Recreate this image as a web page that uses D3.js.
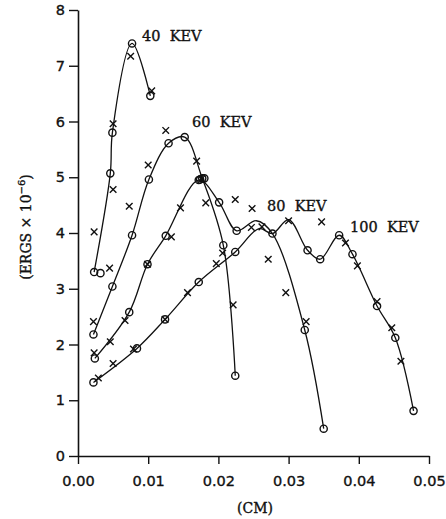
<!DOCTYPE html>
<html>
<head>
<meta charset="utf-8">
<script src="https://cdn.jsdelivr.net/npm/d3@7"></script>
<style>
  body { margin: 0; background: #fff; }
  text { fill: #111; stroke: #111; stroke-width: 0.35px; }
</style>
</head>
<body>
<svg width="446" height="519"></svg>
<script>
// tick values
var xTicks = [0, 0.01, 0.02, 0.03, 0.04, 0.05];
var yTicks = [0, 1, 2, 3, 4, 5, 6, 7, 8];

// series names
var seriesNames = ["40 KEV", "60 KEV", "80 KEV", "100 KEV"];

// circles (o) sitting on each curve, [cm, ergs x 1e-6]
var kev40Circles = [[0.0023, 3.30], [0.0046, 5.07], [0.0049, 5.80], [0.0077, 7.40], [0.0103, 6.46]];
var kev60Circles = [[0.0022, 2.18], [0.0049, 3.04], [0.0077, 3.96], [0.0101, 4.96], [0.0129, 5.61],
  [0.0152, 5.72], [0.0177, 4.98], [0.0207, 3.78], [0.0224, 1.44]];
var kev80Circles = [[0.0024, 1.75], [0.0073, 2.58], [0.0099, 3.44], [0.0125, 3.95], [0.0172, 4.95],
  [0.0201, 4.55], [0.0226, 4.04], [0.0277, 3.99], [0.0323, 2.26], [0.0350, 0.49]];
var kev100Circles = [[0.0022, 1.32], [0.0084, 1.93], [0.0124, 2.45], [0.0172, 3.12], [0.0224, 3.66],
  [0.0327, 3.69], [0.0345, 3.53], [0.0372, 3.96], [0.0391, 3.62], [0.0426, 2.69], [0.0452, 2.12], [0.0478, 0.81]];

// extra knots the drawn curves pass through (no marker)
var kev40Knots = [];
var kev60Knots = [];
var kev80Knots = [[0.0254, 4.22]];
var kev100Knots = [[0.0258, 4.08], [0.0277, 3.99], [0.0300, 4.24]];

// circles not on a curve
var looseCircles = [[0.0032, 3.28], [0.0180, 4.98], [0.0174, 4.96]];

// crosses (x)
var kev40Crosses = [[0.0050, 5.96], [0.0075, 7.17], [0.0105, 6.55], [0.0050, 4.78], [0.0045, 3.37]];
var kev60Crosses = [[0.0022, 2.41], [0.0023, 4.02], [0.0073, 4.48], [0.0100, 5.22], [0.0125, 5.84],
  [0.0169, 5.29], [0.0182, 4.54], [0.0206, 3.64], [0.0221, 2.71]];
var kev80Crosses = [[0.0023, 1.85], [0.0046, 2.05], [0.0067, 2.43], [0.0099, 3.44], [0.0133, 3.93],
  [0.0146, 4.45], [0.0176, 4.97], [0.0224, 4.60], [0.0248, 4.44], [0.0271, 3.53], [0.0296, 2.93], [0.0325, 2.41]];
var kev100Crosses = [[0.0029, 1.40], [0.0050, 1.66], [0.0079, 1.92], [0.0124, 2.45], [0.0156, 2.93],
  [0.0197, 3.45], [0.0247, 4.10], [0.0262, 4.11], [0.0300, 4.22], [0.0347, 4.20], [0.0381, 3.82],
  [0.0398, 3.41], [0.0426, 2.77], [0.0447, 2.30], [0.0460, 1.70]];

(function () {
  var svg = d3.select("svg");

  var x = d3.scaleLinear().domain([0, 0.05]).range([78, 429]);
  var y = d3.scaleLinear().domain([0, 8]).range([456, 10]);

  var series = [
    { name: seriesNames[0], circles: kev40Circles, knots: kev40Knots, crosses: kev40Crosses, lx: 142, ly: 41 },
    { name: seriesNames[1], circles: kev60Circles, knots: kev60Knots, crosses: kev60Crosses, lx: 192, ly: 127 },
    { name: seriesNames[2], circles: kev80Circles, knots: kev80Knots, crosses: kev80Crosses, lx: 267, ly: 211 },
    { name: seriesNames[3], circles: kev100Circles, knots: kev100Knots, crosses: kev100Crosses, lx: 350, ly: 232 }
  ];

  // axes
  var xAxis = svg.append("g")
    .attr("transform", "translate(0," + y(0) + ")")
    .call(d3.axisBottom(x).tickValues(xTicks).tickSize(8).tickSizeOuter(0)
      .tickFormat(d3.format(".2f")));
  var yAxis = svg.append("g")
    .attr("transform", "translate(" + x(0) + ",0)")
    .call(d3.axisLeft(y).tickValues(yTicks).tickSize(9).tickSizeOuter(0)
      .tickFormat(d3.format("d")));

  [xAxis, yAxis].forEach(function (g) {
    g.select(".domain").attr("stroke", "#111").attr("stroke-width", 1.6);
    g.selectAll(".tick line").attr("stroke", "#111").attr("stroke-width", 1.4);
    g.selectAll(".tick text")
      .attr("fill", "#111")
      .style("font-family", "'DejaVu Sans', sans-serif")
      .style("font-size", "14.5px");
  });
  xAxis.selectAll(".tick text").attr("dy", "0").attr("y", 30);
  yAxis.selectAll(".tick text").attr("x", -13);

  // axis titles
  svg.append("text")
    .attr("x", 255).attr("y", 513)
    .attr("text-anchor", "middle")
    .style("font-family", "'DejaVu Serif', serif")
    .style("font-size", "14px")
    .text("(CM)");

  var yt = svg.append("text")
    .attr("transform", "translate(31,227) rotate(-90)")
    .attr("text-anchor", "middle")
    .style("font-family", "'DejaVu Serif', serif")
    .style("font-size", "14px");
  yt.append("tspan").text("(ERGS \u00d7 10");
  yt.append("tspan").attr("dy", -6).style("font-size", "10px").text("\u22126");
  yt.append("tspan").attr("dy", 6).text(")");

  var line = d3.line()
    .x(function (d) { return x(d[0]); })
    .y(function (d) { return y(d[1]); })
    .curve(d3.curveCatmullRom.alpha(0.5));

  series.forEach(function (s) {
    var pts = s.circles.concat(s.knots).sort(function (a, b) { return a[0] - b[0]; });
    svg.append("path")
      .datum(pts)
      .attr("d", line)
      .attr("fill", "none")
      .attr("stroke", "#111")
      .attr("stroke-width", 1.3);
  });

  var allCircles = d3.merge(series.map(function (s) { return s.circles; })).concat(looseCircles);
  svg.append("g").selectAll("circle")
    .data(allCircles)
    .enter().append("circle")
    .attr("cx", function (d) { return x(d[0]); })
    .attr("cy", function (d) { return y(d[1]); })
    .attr("r", 3.6)
    .attr("fill", "none")
    .attr("stroke", "#111")
    .attr("stroke-width", 1.4);

  var allCrosses = d3.merge(series.map(function (s) { return s.crosses; }));
  var k = 3.3;
  svg.append("g").selectAll("path")
    .data(allCrosses)
    .enter().append("path")
    .attr("d", function (d) {
      var cx = x(d[0]), cy = y(d[1]);
      return "M" + (cx - k) + "," + (cy - k) + "L" + (cx + k) + "," + (cy + k) +
        "M" + (cx - k) + "," + (cy + k) + "L" + (cx + k) + "," + (cy - k);
    })
    .attr("stroke", "#111")
    .attr("stroke-width", 1.4);

  // curve labels
  svg.append("g").selectAll("text")
    .data(series)
    .enter().append("text")
    .attr("x", function (s) { return s.lx; })
    .attr("y", function (s) { return s.ly; })
    .attr("xml:space", "preserve")
    .style("white-space", "pre")
    .style("font-family", "'DejaVu Serif', serif")
    .style("font-size", "14.5px")
    .text(function (s) { return s.name.replace(" ", "  "); });
})();
</script>
</body>
</html>
